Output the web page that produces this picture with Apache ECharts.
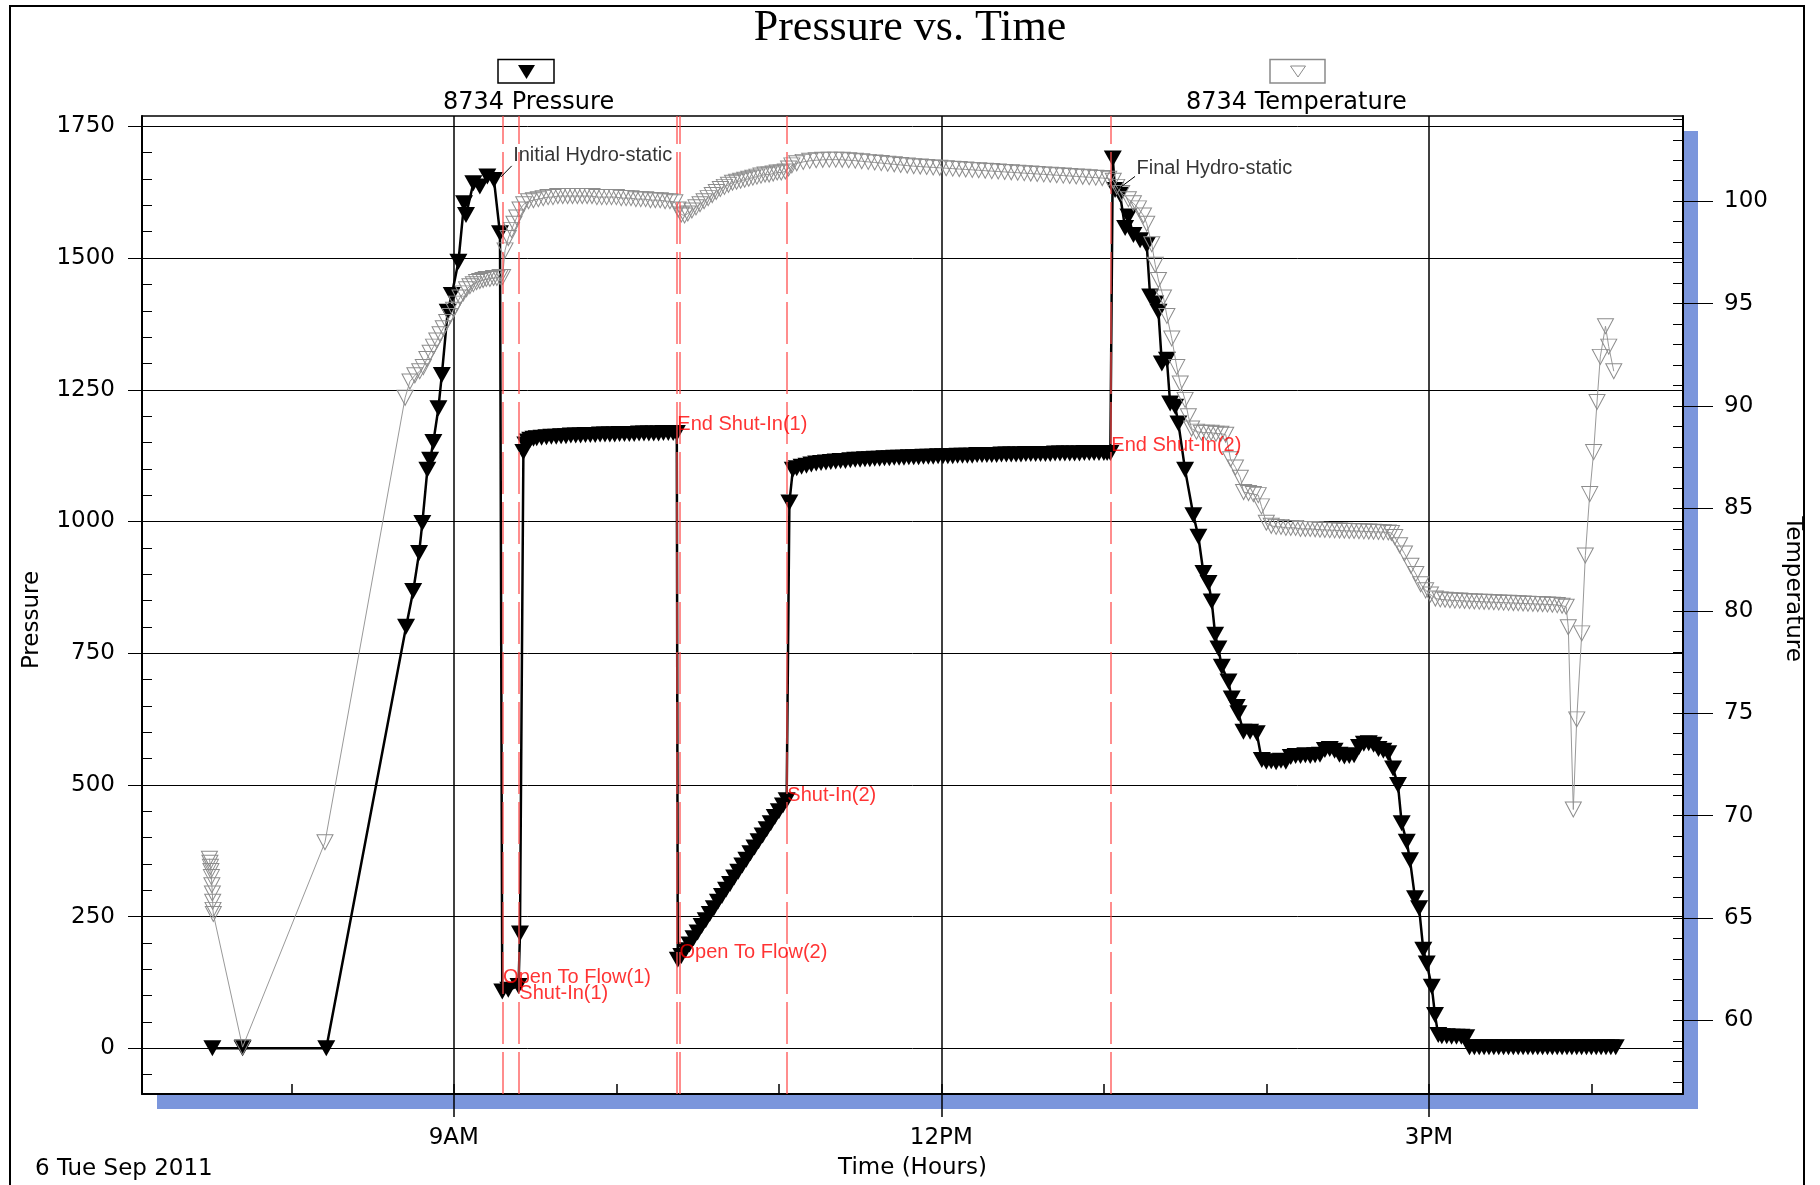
<!DOCTYPE html>
<html>
<head>
<meta charset="utf-8">
<title>Pressure vs. Time</title>
<script src="https://cdn.jsdelivr.net/npm/echarts@6/dist/echarts.min.js"></script>
<style>
html, body { margin: 0; padding: 0; background: #fff; }
#container { width: 1820px; height: 1185px; }
</style>
</head>
<body>
<div id="container"></div>
<script>
// readings: [time in decimal hours, value]
var pressureReadings = [
  [7.514,0],[7.700,0],[8.215,0],
  [8.706,800],[8.750,868],[8.786,940],[8.806,997],[8.837,1098],[8.854,1117],[8.874,1151],[8.905,1215],[8.926,1278],
  [8.962,1398],[8.987,1430],[9.028,1493],[9.063,1604],[9.075,1582],[9.120,1642],[9.160,1636],[9.206,1655],[9.247,1648],[9.284,1547],
  [9.298,108],[9.335,111],[9.398,118],[9.407,218],[9.428,1132],
  [9.440,1146],[9.455,1152],[9.470,1155],[9.490,1157],[9.510,1158],[9.540,1159],[9.570,1160],[9.600,1161],[9.630,1161],
  [9.660,1162],[9.690,1162],[9.720,1163],[9.750,1163],[9.780,1163],[9.810,1164],[9.840,1164],[9.870,1164],[9.900,1165],
  [9.930,1165],[9.960,1165],[9.990,1165],[10.020,1166],[10.050,1166],[10.080,1166],[10.110,1166],[10.140,1167],[10.170,1167],
  [10.200,1167],[10.230,1167],[10.260,1167],[10.290,1168],[10.320,1168],[10.350,1168],[10.372,1168],
  [10.378,168],[10.400,175],[10.425,186],[10.450,197],[10.475,209],[10.500,220],[10.525,232],[10.550,243],[10.575,255],
  [10.600,266],[10.625,278],[10.650,289],[10.675,301],[10.700,312],[10.725,324],[10.750,335],[10.775,347],[10.800,358],
  [10.825,370],[10.850,381],[10.875,393],[10.900,404],[10.925,416],[10.950,427],[10.975,439],[11.000,450],[11.025,461],[11.048,471],
  [11.065,1036],[11.086,1098],
  [11.11,1101],[11.14,1104],[11.17,1106],[11.20,1108],[11.23,1110],[11.26,1111],[11.29,1112],[11.32,1113],[11.35,1114],
  [11.38,1115],[11.41,1115],[11.44,1116],[11.47,1117],[11.50,1117],[11.53,1118],[11.56,1118],[11.59,1119],[11.62,1119],
  [11.65,1120],[11.68,1120],[11.71,1121],[11.74,1121],[11.77,1121],[11.80,1122],[11.83,1122],[11.86,1122],[11.89,1123],
  [11.92,1123],[11.95,1123],[11.98,1124],[12.01,1124],[12.04,1124],[12.07,1124],[12.10,1125],[12.13,1125],[12.16,1125],
  [12.19,1125],[12.22,1126],[12.25,1126],[12.28,1126],[12.31,1126],[12.34,1126],[12.37,1127],[12.40,1127],[12.43,1127],
  [12.46,1127],[12.49,1127],[12.52,1128],[12.55,1128],[12.58,1128],[12.61,1128],[12.64,1128],[12.67,1128],[12.70,1129],
  [12.73,1129],[12.76,1129],[12.79,1129],[12.82,1129],[12.85,1129],[12.88,1130],[12.91,1130],[12.94,1130],[12.97,1130],
  [13.00,1130],[13.02,1130],[13.04,1130],
  [13.055,1689],
  [13.069,1629],[13.100,1620],[13.131,1557],[13.151,1579],[13.182,1544],[13.223,1534],[13.264,1525],[13.285,1427],
  [13.316,1414],[13.336,1398],[13.357,1300],[13.388,1307],[13.408,1224],[13.439,1218],[13.459,1186],[13.500,1098],
  [13.551,1012],[13.582,971],[13.613,902],[13.644,883],[13.664,848],[13.685,785],[13.705,759],[13.726,724],[13.767,696],
  [13.787,664],[13.818,648],[13.828,636],[13.859,601],[13.900,601],[13.941,598],[13.972,547],
  [14.00,544],[14.03,545],[14.06,543],[14.09,546],[14.12,544],[14.15,553],[14.18,555],[14.21,555],[14.24,556],[14.27,555],
  [14.30,556],[14.33,557],[14.36,566],[14.39,568],[14.42,565],[14.45,557],[14.48,554],[14.51,555],[14.54,556],[14.57,572],
  [14.60,578],[14.63,579],[14.66,576],[14.69,568],[14.72,565],[14.75,560],
  [14.780,531],[14.810,500],[14.833,427],[14.864,392],[14.884,357],[14.915,285],[14.940,266],[14.966,187],[14.987,161],
  [15.018,117],[15.038,63],[15.058,25],
  [15.08,23],[15.11,23],[15.14,22],[15.17,22],[15.20,22],[15.23,21],
  [15.25,2],[15.28,2],[15.31,2],[15.34,2],[15.37,2],[15.40,2],[15.43,2],[15.46,2],[15.49,2],[15.52,2],[15.55,2],[15.58,2],
  [15.61,2],[15.64,2],[15.67,2],[15.70,2],[15.73,2],[15.76,2],[15.79,2],[15.82,2],[15.85,2],[15.88,2],[15.91,2],[15.94,2],
  [15.97,2],[16.00,2],[16.03,2],[16.06,2],[16.09,2],[16.12,2],[16.15,2]
];

var temperatureReadings = [
  [7.496,67.9],[7.499,67.7],[7.502,67.5],[7.505,67.3],[7.508,67.0],[7.511,66.6],[7.514,66.2],[7.516,65.8],[7.518,65.4],[7.520,65.2],
  [7.700,58.7],[8.207,68.7],
  [8.700,90.4],[8.730,91.2],[8.760,91.5],[8.790,91.7],[8.812,91.9],[8.834,92.3],[8.854,92.6],[8.875,92.9],[8.895,93.2],
  [8.915,93.5],[8.935,93.8],[8.956,94.1],[8.977,94.4],[8.998,94.7],[9.018,95.0],[9.038,95.3],[9.058,95.5],[9.078,95.7],
  [9.099,95.85],[9.120,95.95],[9.140,96.05],[9.160,96.1],[9.180,96.15],[9.200,96.2],[9.222,96.2],[9.245,96.25],[9.265,96.25],
  [9.285,96.3],[9.300,96.3],
  [9.315,97.6],[9.335,98.2],[9.355,98.6],[9.370,98.9],[9.387,99.2],[9.407,99.6],
  [9.43,99.85],[9.46,100.0],[9.49,100.05],[9.52,100.1],[9.55,100.15],[9.58,100.2],[9.61,100.2],[9.64,100.25],[9.67,100.25],
  [9.70,100.25],[9.73,100.25],[9.76,100.25],[9.79,100.25],[9.82,100.25],[9.85,100.25],[9.88,100.2],[9.91,100.2],[9.94,100.2],
  [9.97,100.2],[10.00,100.2],[10.03,100.15],[10.06,100.15],[10.09,100.15],[10.12,100.1],[10.15,100.1],[10.18,100.1],
  [10.21,100.05],[10.24,100.05],[10.27,100.05],[10.30,100.0],[10.33,100.0],[10.36,99.95],
  [10.38,99.6],[10.40,99.35],[10.42,99.3],[10.44,99.4],
  [10.465,99.55],[10.49,99.7],[10.515,99.85],[10.54,100.0],[10.565,100.15],[10.59,100.3],[10.615,100.45],[10.64,100.6],
  [10.665,100.7],[10.69,100.8],[10.715,100.9],[10.74,100.95],[10.765,101.0],[10.79,101.05],[10.815,101.1],[10.84,101.15],
  [10.865,101.2],[10.89,101.25],[10.915,101.3],[10.94,101.3],[10.965,101.35],[10.99,101.4],[11.015,101.4],[11.04,101.45],
  [11.06,101.6],[11.08,101.75],[11.11,101.85],[11.15,101.92],[11.19,101.97],[11.23,102.0],[11.27,102.02],[11.31,102.03],
  [11.35,102.03],[11.39,102.02],[11.43,102.0],[11.47,101.98],[11.51,101.95],[11.55,101.92],[11.59,101.89],[11.63,101.86],
  [11.67,101.83],[11.71,101.8],[11.75,101.77],[11.79,101.74],[11.83,101.71],[11.87,101.69],[11.91,101.67],[11.95,101.65],
  [11.99,101.63],[12.03,101.61],[12.07,101.59],[12.11,101.57],[12.15,101.55],[12.19,101.53],[12.23,101.51],[12.27,101.49],
  [12.31,101.47],[12.35,101.45],[12.39,101.43],[12.43,101.41],[12.47,101.39],[12.51,101.37],[12.55,101.35],[12.59,101.33],
  [12.63,101.31],[12.67,101.29],[12.71,101.27],[12.75,101.25],[12.79,101.23],[12.83,101.21],[12.87,101.19],[12.91,101.17],
  [12.95,101.15],[12.99,101.13],[13.03,101.1],
  [13.058,101.0],[13.079,100.7],[13.110,100.4],[13.151,100.1],[13.182,99.9],[13.213,99.65],[13.244,99.3],[13.264,98.9],
  [13.295,97.9],[13.316,96.9],[13.336,96.15],[13.367,95.3],[13.388,94.4],[13.418,93.3],[13.449,91.9],[13.470,91.1],
  [13.500,90.3],[13.520,89.5],[13.540,88.9],
  [13.57,88.75],[13.60,88.7],[13.63,88.7],[13.66,88.7],[13.69,88.65],[13.72,88.65],[13.75,88.6],
  [13.78,87.4],[13.81,87.0],[13.84,86.5],
  [13.86,85.8],[13.89,85.75],[13.92,85.7],[13.95,85.65],[13.97,85.1],[14.00,84.3],
  [14.03,84.15],[14.06,84.1],[14.09,84.1],[14.12,84.05],[14.15,84.05],[14.18,84.05],[14.21,84.0],[14.24,84.0],[14.27,84.0],
  [14.30,83.98],[14.33,83.96],[14.36,83.95],[14.39,83.94],[14.42,83.93],[14.45,83.92],[14.48,83.91],[14.51,83.9],[14.54,83.9],
  [14.57,83.89],[14.60,83.88],[14.63,83.87],[14.66,83.86],[14.69,83.85],[14.72,83.84],[14.75,83.83],[14.77,83.8],
  [14.79,83.6],[14.82,83.2],[14.85,82.8],[14.89,82.2],[14.92,81.8],[14.95,81.3],[14.98,81.0],[15.01,80.8],
  [15.04,80.6],[15.07,80.56],[15.10,80.54],[15.13,80.52],[15.16,80.5],[15.19,80.5],[15.22,80.48],[15.25,80.47],[15.28,80.46],
  [15.31,80.45],[15.34,80.44],[15.37,80.43],[15.40,80.42],[15.43,80.41],[15.46,80.4],[15.49,80.39],[15.52,80.38],[15.55,80.37],
  [15.58,80.36],[15.61,80.35],[15.64,80.34],[15.67,80.33],[15.70,80.32],[15.73,80.31],[15.76,80.3],[15.79,80.28],[15.82,80.25],
  [15.845,80.2],
  [15.858,79.2],[15.889,70.3],[15.910,74.7],[15.941,78.9],[15.963,82.7],[15.990,85.7],[16.014,87.75],[16.035,90.2],
  [16.055,92.4],[16.087,93.9],[16.107,92.9],[16.138,91.7]
];

// test events (time, pressure at the event)
var eventNames = ['Open To Flow(1)', 'Shut-In(1)', 'End Shut-In(1)', 'Open To Flow(2)', 'Shut-In(2)', 'End Shut-In(2)'];
var eventTime = [9.30, 9.40, 10.372, 10.386, 11.049, 13.043];
var eventPressure = [108, 118, 1168, 168, 471, 1129];

// hydro-static notes: leader from the curve to the text
var hydroNames = ['Initial Hydro-static', 'Final Hydro-static'];
var hydroFrom = [[9.29, 1654], [13.079, 1629]];
var hydroTo = [[9.356, 1675], [13.192, 1655]];

var xTickValues = [9, 12, 15];
var xTickLabels = ['9AM', '12PM', '3PM'];
var xMinorTicks = [8, 9, 10, 11, 12, 13, 14, 15, 16];
var pressureTicks = [0, 250, 500, 750, 1000, 1250, 1500, 1750];
var tempTicks = [60, 65, 70, 75, 80, 85, 90, 95, 100];

var pressureMinorTicks = [];
for (var p = -50; p <= 1750; p += 50) pressureMinorTicks.push(p);
var tempMinorTicks = [];
for (var d = 57; d <= 104; d++) tempMinorTicks.push(d);

var X_MIN = 7.081, X_MAX = 16.564;
var P_MIN = -86.8, P_MAX = 1769.7;
var T_MIN = 56.41, T_MAX = 104.16;

var AXIS_FONT = 'DejaVu Sans';
var NOTE_FONT = 'Liberation Sans';
var labelOffsets = [-14, 7, -8, -7, -5, -8];
var RED = '#ff4d4d';

var chart = echarts.init(document.getElementById('container'), null, { renderer: 'canvas' });

var eventLines = eventTime.map(function (t) {
  return { xAxis: t, lineStyle: { color: RED, width: 1.5, type: [42, 8], opacity: 0.85 } };
});
var leaderLines = hydroFrom.map(function (f, i) {
  var st = { color: '#000', width: 1, type: 'solid' };
  return [{ coord: f, lineStyle: st }, { coord: hydroTo[i], lineStyle: st }];
});

var noteData = eventNames.map(function (n, i) {
  return {
    name: n,
    value: [eventTime[i], eventPressure[i]],
    label: { offset: [0, labelOffsets[i]], color: '#ff0000' }
  };
}).concat(hydroNames.map(function (n, i) {
  return {
    name: n,
    value: hydroTo[i],
    label: { offset: [1, i === 0 ? -10 : -8], color: '#000' }
  };
}));

var axisText = { color: '#000', fontFamily: AXIS_FONT, fontSize: 23 };
var plainNumber = function (v) { return String(v); };

var option = {
  animation: false,
  backgroundColor: '#fff',
  title: {
    text: 'Pressure vs. Time',
    left: 'center',
    top: 6,
    padding: 0,
    textStyle: { fontFamily: 'Liberation Serif', fontSize: 44, fontWeight: 'normal', color: '#000' }
  },
  legend: [
    {
      data: [{ name: '8734 Pressure', icon: 'none' }],
      icon: 'none', left: 438, top: 91, padding: 0,
      itemWidth: 0, itemHeight: 10, selectedMode: false,
      textStyle: { color: '#000', fontFamily: AXIS_FONT, fontSize: 24 }
    },
    {
      data: [{ name: '8734 Temperature', icon: 'none' }],
      icon: 'none', left: 1181, top: 91, padding: 0,
      itemWidth: 0, itemHeight: 10, selectedMode: false,
      textStyle: { color: '#000', fontFamily: AXIS_FONT, fontSize: 24 }
    }
  ],
  grid: {
    left: 142, right: 137, top: 116, bottom: 91,
    show: true,
    backgroundColor: '#fff',
    borderWidth: 0,
    shadowColor: '#7b96dc',
    shadowBlur: 0,
    shadowOffsetX: 15,
    shadowOffsetY: 15,
    containLabel: false,
    outerBoundsMode: 'none'
  },
  graphic: [
    { type: 'rect', silent: true, z: -10, shape: { x: 10, y: 6, width: 1794, height: 1200 },
      style: { fill: 'none', stroke: '#000', lineWidth: 2 } },
    { type: 'rect', silent: true, shape: { x: 498, y: 59.5, width: 56, height: 23.5 },
      style: { fill: '#fff', stroke: '#000', lineWidth: 1.5 } },
    { type: 'polygon', silent: true, shape: { points: [[518, 65], [535, 65], [526.5, 79]] },
      style: { fill: '#000' } },
    { type: 'rect', silent: true, shape: { x: 1270, y: 59.5, width: 55, height: 23.5 },
      style: { fill: '#fff', stroke: '#8a8a8a', lineWidth: 1.5 } },
    { type: 'polygon', silent: true, shape: { points: [[1290.5, 66], [1305.5, 66], [1298, 77]] },
      style: { fill: 'none', stroke: '#8a8a8a', lineWidth: 1 } },
    { type: 'text', silent: true, x: 35, y: 1169,
      style: { text: '6 Tue Sep 2011', fill: '#000', font: '23px "DejaVu Sans"', verticalAlign: 'middle' } }
  ],
  xAxis: [
    {
      type: 'value', min: X_MIN, max: X_MAX, position: 'bottom',
      axisLine: { show: true, onZero: false, lineStyle: { color: '#000', width: 2 } },
      axisTick: { show: true, inside: true, length: 10, customValues: xMinorTicks, lineStyle: { color: '#000', width: 1.5 } },
      axisLabel: {
        show: true, customValues: xTickValues, margin: 33, color: '#000', fontFamily: AXIS_FONT, fontSize: 23,
        formatter: function (v) { return xTickLabels[xTickValues.indexOf(v)]; }
      },
      splitLine: { show: false },
      name: 'Time (Hours)', nameLocation: 'middle', nameGap: 63, nameMoveOverlap: false,
      nameTextStyle: axisText
    },
    {
      type: 'value', min: X_MIN, max: X_MAX, position: 'bottom',
      axisLine: { show: false, onZero: false },
      axisTick: { show: true, inside: false, length: 23, customValues: xTickValues, lineStyle: { color: '#000', width: 1.5 } },
      axisLabel: { show: false },
      splitLine: { show: true, lineStyle: { color: '#000', width: 1.5 } }
    },
    {
      type: 'value', min: X_MIN, max: X_MAX, position: 'top',
      axisLine: { show: true, onZero: false, lineStyle: { color: '#000', width: 1.5 } },
      axisTick: { show: false },
      axisLabel: { show: false },
      splitLine: { show: false }
    }
  ],
  yAxis: [
    {
      type: 'value', min: P_MIN, max: P_MAX, position: 'left',
      axisLine: { show: true, onZero: false, lineStyle: { color: '#000', width: 2 } },
      axisTick: { show: true, inside: false, length: 14, customValues: pressureTicks, lineStyle: { color: '#000', width: 1 } },
      axisLabel: { customValues: pressureTicks, margin: 27, color: '#000', fontFamily: AXIS_FONT, fontSize: 23, formatter: plainNumber },
      splitLine: { show: true, lineStyle: { color: '#000', width: 1 } },
      name: 'Pressure', nameLocation: 'middle', nameGap: 98, nameRotate: 90, nameMoveOverlap: false,
      nameTextStyle: { color: '#000', fontFamily: AXIS_FONT, fontSize: 23, padding: [0, 30, 0, 0] }
    },
    {
      type: 'value', min: T_MIN, max: T_MAX, position: 'right',
      axisLine: { show: true, onZero: false, lineStyle: { color: '#000', width: 2 } },
      axisTick: { show: true, inside: false, length: 30, customValues: tempTicks, lineStyle: { color: '#000', width: 1 } },
      axisLabel: { customValues: tempTicks, margin: 41, color: '#000', fontFamily: AXIS_FONT, fontSize: 23, formatter: plainNumber },
      splitLine: { show: false },
      name: 'Temperature', nameLocation: 'middle', nameGap: 98, nameRotate: -90, nameMoveOverlap: false,
      nameTextStyle: { color: '#000', fontFamily: AXIS_FONT, fontSize: 23, padding: [0, 32, 0, 0] }
    },
    {
      type: 'value', min: P_MIN, max: P_MAX, position: 'left',
      axisLine: { show: false, onZero: false },
      axisTick: { show: true, inside: true, length: 10, customValues: pressureMinorTicks, lineStyle: { color: '#000', width: 1 } },
      axisLabel: { show: false },
      splitLine: { show: false }
    },
    {
      type: 'value', min: T_MIN, max: T_MAX, position: 'right',
      axisLine: { show: false, onZero: false },
      axisTick: { show: true, inside: true, length: 10, customValues: tempMinorTicks, lineStyle: { color: '#000', width: 1 } },
      axisLabel: { show: false },
      splitLine: { show: false }
    }
  ],
  series: [
    {
      name: '8734 Pressure',
      type: 'line',
      xAxisIndex: 0, yAxisIndex: 0,
      data: pressureReadings,
      showSymbol: true, showAllSymbol: true,
      symbol: 'triangle', symbolRotate: 180, symbolSize: [18, 16],
      itemStyle: { color: '#000' },
      lineStyle: { color: '#000', width: 2.5 },
      z: 3,
      markLine: {
        silent: true,
        symbol: ['none', 'none'],
        label: { show: false },
        animation: false,
        data: eventLines.concat(leaderLines)
      }
    },
    {
      name: '8734 Temperature',
      type: 'line',
      xAxisIndex: 0, yAxisIndex: 1,
      data: temperatureReadings,
      showSymbol: true, showAllSymbol: true,
      symbol: 'triangle', symbolRotate: 180, symbolSize: [16, 15],
      itemStyle: { color: 'rgba(0,0,0,0)', borderColor: '#8c8c8c', borderWidth: 1 },
      lineStyle: { color: '#999', width: 1 },
      z: 4
    },
    {
      name: 'Notes',
      type: 'scatter',
      xAxisIndex: 0, yAxisIndex: 0,
      data: noteData,
      symbolSize: 1,
      itemStyle: { color: 'rgba(0,0,0,0)' },
      label: {
        show: true, position: 'right', distance: 0, formatter: '{b}',
        fontFamily: NOTE_FONT, fontSize: 20
      },
      z: 6
    }
  ]
};

chart.setOption(option);
</script>
</body>
</html>
